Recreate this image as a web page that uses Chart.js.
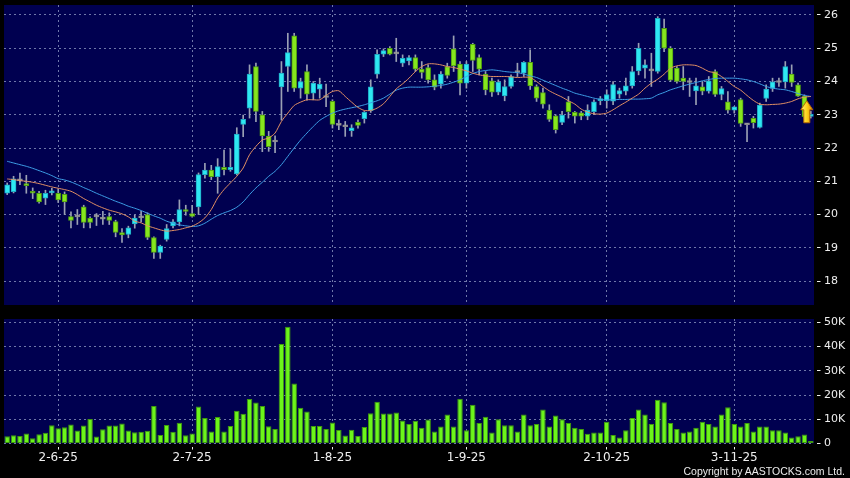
<!DOCTYPE html>
<html><head><meta charset="utf-8">
<script src="https://cdn.jsdelivr.net/npm/chart.js@4.4.1/dist/chart.umd.min.js"></script>
<style>
html,body{margin:0;padding:0;background:#000;width:850px;height:478px;overflow:hidden}
#wrap{position:relative;width:850px;height:478px;background:#000}
#pc{position:absolute;left:0;top:0}
#vc{position:absolute;left:0;top:312px}
#copy{position:absolute;right:5px;top:465px;color:#ececec;font:10.5px "Liberation Sans",Arial,sans-serif;white-space:nowrap}
</style></head><body>
<div id="wrap">
<canvas id="pc" width="850" height="312"></canvas>
<canvas id="vc" width="850" height="166"></canvas>
<div id="copy">Copyright by AASTOCKS.com Ltd.</div>
</div>
<script>
// ---- data ----
const dates = [
 '21-5-25','22-5-25','23-5-25','26-5-25','27-5-25','28-5-25','29-5-25','30-5-25',
 '2-6-25','3-6-25','4-6-25','5-6-25','6-6-25','9-6-25','10-6-25','11-6-25','12-6-25','13-6-25','16-6-25','17-6-25','18-6-25','19-6-25','20-6-25','23-6-25','24-6-25','25-6-25','26-6-25','27-6-25','30-6-25',
 '2-7-25','3-7-25','4-7-25','7-7-25','8-7-25','9-7-25','10-7-25','11-7-25','14-7-25','15-7-25','16-7-25','17-7-25','18-7-25','21-7-25','22-7-25','23-7-25','24-7-25','25-7-25','28-7-25','29-7-25','30-7-25','31-7-25',
 '1-8-25','4-8-25','5-8-25','6-8-25','7-8-25','8-8-25','11-8-25','12-8-25','13-8-25','14-8-25','15-8-25','18-8-25','19-8-25','20-8-25','21-8-25','22-8-25','25-8-25','26-8-25','27-8-25','28-8-25','29-8-25',
 '1-9-25','2-9-25','3-9-25','4-9-25','5-9-25','8-9-25','9-9-25','10-9-25','11-9-25','12-9-25','15-9-25','16-9-25','17-9-25','18-9-25','19-9-25','22-9-25','23-9-25','24-9-25','25-9-25','26-9-25','29-9-25','30-9-25',
 '2-10-25','3-10-25','6-10-25','8-10-25','9-10-25','10-10-25','13-10-25','14-10-25','15-10-25','16-10-25','17-10-25','20-10-25','21-10-25','22-10-25','23-10-25','24-10-25','27-10-25','28-10-25','30-10-25','31-10-25',
 '3-11-25','4-11-25','5-11-25','6-11-25','7-11-25','10-11-25','11-11-25','12-11-25','13-11-25','14-11-25','17-11-25','18-11-25','19-11-25'
];
const tickDates = ['2-6-25','2-7-25','1-8-25','1-9-25','2-10-25','3-11-25'];
const priceTicks = [18,19,20,21,22,23,24,25,26];
const volumeTicks = [0,10,20,30,40,50];

const opens = [20.64,20.69,21.01,20.93,20.70,20.64,20.49,20.65,20.64,20.61,
 19.94,19.93,20.23,19.89,19.93,19.86,19.94,19.79,19.46,19.40,
 19.72,19.90,20.00,19.31,18.86,19.25,19.66,19.78,20.15,20.03,
 20.23,21.20,21.34,21.14,21.42,21.35,21.22,22.71,23.20,24.45,
 23.00,22.36,22.18,23.84,24.45,25.37,23.80,24.30,23.65,23.77,
 23.52,23.40,22.68,22.64,22.52,22.77,22.88,23.12,24.22,24.82,
 25.00,24.83,24.55,24.62,24.72,24.37,24.42,24.05,23.92,24.45,
 24.98,24.52,23.95,25.12,24.72,24.22,24.02,23.68,23.57,23.85,
 24.27,24.25,24.58,23.85,23.67,23.14,22.97,22.77,23.39,23.07,
 23.06,22.96,23.09,23.42,23.42,23.41,23.62,23.71,23.87,24.32,
 24.40,24.32,24.30,25.60,25.00,24.40,24.10,23.97,23.72,23.84,
 23.71,24.30,23.61,23.39,23.14,23.46,22.70,22.89,22.62,23.49,
 23.79,23.97,23.99,24.22,23.90,23.56,22.95];
const highs = [20.95,21.15,21.25,21.18,20.80,20.70,20.73,20.79,20.77,20.68,
 20.08,20.15,20.28,19.93,20.03,20.10,20.05,19.83,19.58,19.65,
 19.98,20.10,20.05,19.33,19.08,19.70,19.85,20.44,20.28,20.28,
 21.25,21.54,21.48,21.68,21.94,21.96,22.61,22.99,24.50,24.55,
 23.10,22.50,22.37,24.60,25.45,25.45,24.10,24.50,24.00,24.10,
 23.92,23.45,22.85,22.80,22.70,22.85,23.10,24.05,24.95,24.98,
 25.05,25.30,24.80,24.78,24.80,24.60,24.50,24.20,24.30,24.55,
 25.37,24.60,24.60,25.15,24.80,24.30,24.10,24.05,24.05,24.20,
 24.55,24.60,24.95,23.90,23.80,23.30,23.00,23.10,23.55,23.10,
 23.10,23.30,23.45,23.55,23.75,24.00,23.80,24.10,24.45,25.15,
 24.65,24.85,25.95,25.88,25.05,24.45,24.45,24.10,24.10,24.00,
 24.15,24.35,23.85,23.70,23.25,23.50,22.74,22.95,23.35,23.90,
 24.10,24.10,24.60,24.50,23.95,23.60,23.10];
const lows = [20.60,20.65,20.90,20.64,20.48,20.34,20.30,20.59,20.36,20.00,
 19.60,19.70,19.60,19.60,19.67,19.70,19.70,19.33,19.16,19.30,
 19.59,19.78,19.25,18.68,18.68,19.20,19.60,19.66,19.98,19.92,
 20.00,21.09,21.05,20.64,21.19,21.30,21.19,22.34,22.90,22.79,
 21.89,21.90,21.86,22.84,23.70,23.70,23.50,23.44,23.45,23.50,
 23.24,22.60,22.55,22.35,22.35,22.60,22.75,23.07,24.10,24.75,
 24.80,24.60,24.45,24.50,24.30,24.10,23.95,23.75,23.80,24.10,
 24.30,23.60,23.80,24.30,24.20,23.60,23.55,23.60,23.42,23.80,
 24.15,24.15,23.76,23.40,23.20,22.80,22.45,22.70,22.90,22.75,
 22.85,22.85,23.00,23.30,23.20,23.30,23.50,23.60,23.80,24.20,
 24.10,23.85,24.25,24.90,24.00,23.95,23.75,23.55,23.30,23.60,
 23.65,23.55,23.45,23.05,23.05,22.65,22.19,22.60,22.60,23.40,
 23.70,23.85,23.80,23.85,23.55,22.90,22.90];
const closes = [20.89,21.07,21.01,20.87,20.64,20.38,20.64,20.69,20.44,20.38,
 19.82,19.93,19.76,19.76,19.93,19.86,19.82,19.46,19.39,19.60,
 19.89,19.90,19.31,18.86,19.05,19.58,19.78,20.15,20.09,19.94,
 21.20,21.34,21.14,21.44,21.35,21.42,22.42,22.86,24.22,23.10,
 22.36,22.04,22.18,24.25,24.87,23.80,24.00,23.62,23.95,23.92,
 23.52,22.71,22.68,22.64,22.61,22.68,23.07,23.84,24.82,24.93,
 24.82,24.83,24.70,24.72,24.37,24.27,24.05,23.83,24.22,24.18,
 24.47,23.95,24.52,24.63,24.37,23.75,23.68,23.98,23.85,24.15,
 24.27,24.58,23.87,23.50,23.32,22.86,22.55,22.99,23.09,22.96,
 22.96,23.14,23.39,23.49,23.61,23.91,23.73,23.87,24.30,25.00,
 24.50,24.32,25.90,25.00,24.04,24.00,24.00,23.97,23.87,23.71,
 24.02,23.61,23.79,23.14,23.24,22.74,22.70,22.76,23.29,23.77,
 23.99,23.97,24.45,23.97,23.56,22.94,23.00];
const maShort = [21.07,21.05,21.02,21.00,20.97,20.93,20.88,20.83,20.79,20.75,
 20.70,20.60,20.48,20.38,20.28,20.20,20.13,20.08,20.02,19.93,
 19.80,19.75,19.66,19.60,19.54,19.50,19.52,19.55,19.60,19.65,
 19.75,19.90,20.15,20.50,20.75,20.95,21.15,21.40,21.80,22.05,
 22.24,22.30,22.45,22.80,23.05,23.28,23.38,23.45,23.45,23.45,
 23.58,23.70,23.72,23.55,23.38,23.22,23.13,23.13,23.20,23.33,
 23.55,23.78,23.93,24.10,24.30,24.45,24.53,24.53,24.50,24.45,
 24.42,24.37,24.32,24.25,24.20,24.17,24.15,24.15,24.15,24.14,
 24.12,24.13,24.12,24.00,23.85,23.72,23.62,23.53,23.42,23.32,
 23.17,23.08,23.03,23.02,23.05,23.15,23.27,23.38,23.50,23.62,
 23.80,23.95,24.07,24.22,24.40,24.47,24.50,24.50,24.48,24.40,
 24.30,24.26,24.15,24.00,23.85,23.74,23.58,23.43,23.32,23.30,
 23.31,23.32,23.35,23.40,23.48,23.53,23.55];
const maLong = [21.60,21.55,21.50,21.45,21.39,21.32,21.25,21.17,21.08,21.04,
 20.98,20.90,20.81,20.73,20.64,20.56,20.48,20.40,20.33,20.25,
 20.19,20.12,20.04,19.96,19.89,19.80,19.74,19.69,19.66,19.64,
 19.66,19.74,19.86,19.97,20.05,20.12,20.22,20.38,20.60,20.80,
 20.97,21.15,21.30,21.50,21.75,22.00,22.24,22.45,22.65,22.83,
 22.95,23.05,23.12,23.17,23.21,23.25,23.30,23.36,23.42,23.50,
 23.62,23.74,23.80,23.83,23.83,23.83,23.84,23.86,23.88,23.92,
 23.98,24.05,24.15,24.24,24.30,24.33,24.35,24.33,24.30,24.28,
 24.27,24.22,24.17,24.12,24.04,23.96,23.88,23.80,23.73,23.65,
 23.60,23.55,23.50,23.46,23.45,23.45,23.46,23.46,23.47,23.47,
 23.48,23.50,23.60,23.67,23.75,23.81,23.87,23.92,23.97,24.02,
 24.06,24.09,24.10,24.10,24.10,24.08,24.05,24.00,23.93,23.85,
 23.80,23.77,23.75,23.70,23.64,23.58,23.55];
const volumeK = [3.0,3.4,3.1,4.1,2.2,3.8,4.4,7.5,6.3,6.7,
 7.8,5.4,7.4,10.1,2.9,5.9,7.4,7.4,8.3,5.4,
 4.6,4.8,5.3,15.5,3.5,7.6,4.8,8.6,3.4,4.1,
 15.3,10.5,4.9,10.9,4.9,7.2,13.5,12.3,18.4,16.9,
 15.5,7.1,6.0,41.0,48.2,24.8,14.7,13.2,7.2,7.2,
 6.0,8.7,5.6,3.3,5.7,3.1,6.8,12.5,17.2,12.4,
 12.4,12.8,9.5,8.0,9.4,6.5,9.9,5.0,7.0,12.0,
 7.0,18.5,5.5,16.0,8.5,11.0,4.5,10.0,7.5,7.5,
 5.0,12.0,7.5,8.0,14.0,7.0,11.5,10.0,8.5,6.5,
 6.0,4.0,4.5,4.5,9.0,3.5,2.5,5.5,10.5,14.0,
 12.0,8.0,18.0,17.0,8.5,6.0,4.5,5.0,6.5,9.0,
 8.0,7.0,12.0,15.0,8.0,7.0,8.5,5.0,7.0,7.0,
 5.5,5.5,4.5,2.5,3.0,3.7,1.0];

// ---- styles ----
const NAVY = '#000050';
const GRID = 'rgba(130,140,185,0.85)';
const TEXT = '#eeeeee';
const UP = '#2ee8f2', UP_B = '#1fa9c4';
const DOWN = '#86e61e', DOWN_B = '#4f9c12';
const FLAT = '#a8a8a8', FLAT_B = '#8a8a8a';
const WICK = '#9aa0b4';
const ORANGE = '#e39064', BLUE = '#3d9ee6';
const VOL = '#6cf51a', VOL_B = '#3f9a0c';

const bodyFill = opens.map((o,i)=> closes[i]>o ? UP : (closes[i]<o ? DOWN : FLAT));
const bodyLine = opens.map((o,i)=> closes[i]>o ? UP_B : (closes[i]<o ? DOWN_B : FLAT_B));

const areaBg = {id:'areaBg', beforeDraw(chart){
  const {ctx, chartArea:a} = chart;
  ctx.save(); ctx.fillStyle = NAVY; ctx.fillRect(a.left, a.top, a.right-a.left, a.bottom-a.top); ctx.restore();
}};
const arrowMark = {id:'arrowMark', afterDatasetsDraw(chart){
  const last = closes.length-1;
  const x = chart.scales.x.getPixelForValue(last) - 4;
  const y = chart.scales.y.getPixelForValue(closes[last]);
  const ctx = chart.ctx; ctx.save();
  const g = ctx.createLinearGradient(x-6,0,x+6,0);
  g.addColorStop(0,'#fff47a'); g.addColorStop(0.5,'#ffd21a'); g.addColorStop(1,'#e08a00');
  ctx.beginPath();
  ctx.moveTo(x, y-14); ctx.lineTo(x+6, y-5); ctx.lineTo(x+3, y-5); ctx.lineTo(x+3, y+8);
  ctx.lineTo(x-3, y+8); ctx.lineTo(x-3, y-5); ctx.lineTo(x-6, y-5); ctx.closePath();
  ctx.fillStyle = g; ctx.fill(); ctx.strokeStyle = '#b86a00'; ctx.lineWidth = 1; ctx.stroke();
  ctx.restore();
}};
function keepDateTicks(axis){ axis.ticks = tickDates.map(d=>({value: dates.indexOf(d)})); }
const tickDash = [0,3,3.5,30];
const yFont = {family:'DejaVu Sans', size:11, lineHeight:0.8};

new Chart(document.getElementById('pc'), {
  data: {
    labels: dates,
    datasets: [
      {type:'line', data: maShort, borderColor: ORANGE, borderWidth:1, pointRadius:0, tension:0.25, order:1},
      {type:'line', data: maLong, borderColor: BLUE, borderWidth:1, pointRadius:0, tension:0.25, order:1},
      {type:'bar', data: dates.map((d,i)=>[opens[i], closes[i]]), backgroundColor: bodyFill, borderColor: bodyLine,
        borderWidth:1, borderSkipped:false, barThickness:5, minBarLength:2, grouped:false, order:2},
      {type:'bar', data: dates.map((d,i)=>[lows[i], highs[i]]), backgroundColor: WICK, barThickness:1, grouped:false, order:3}
    ]
  },
  options: {
    responsive:false, animation:false, events:[],
    layout:{padding:{left:4, top:5, right:0, bottom:7}},
    plugins:{legend:{display:false}, tooltip:{enabled:false}},
    scales:{
      x:{type:'category', offset:true,
         grid:{offset:false, color:GRID, drawTicks:false, lineWidth:1},
         border:{display:false, dash:[2,3]},
         ticks:{display:false, autoSkip:false},
         afterBuildTicks: keepDateTicks, afterFit(a){ a.height = 0; }},
      y:{position:'right', min:17.28, max:26.3,
         grid:{color:GRID, tickLength:10, tickColor:TEXT, tickBorderDash:tickDash},
         border:{display:false, dash:[2,3]},
         ticks:{color:TEXT, font:yFont, padding:0},
         afterBuildTicks(a){ a.ticks = priceTicks.map(v=>({value:v})); },
         afterFit(a){ a.width = 36; }}
    }
  },
  plugins:[areaBg, arrowMark]
});

new Chart(document.getElementById('vc'), {
  type:'bar',
  data:{labels: dates, datasets:[{data: volumeK, backgroundColor: VOL, borderColor: VOL_B, borderWidth:1,
     borderSkipped:false, barPercentage:0.86, categoryPercentage:1}]},
  options:{
    responsive:false, animation:false, events:[],
    layout:{padding:{left:4, top:7, right:0, bottom:0}},
    plugins:{legend:{display:false}, tooltip:{enabled:false}},
    scales:{
      x:{offset:true,
         grid:{offset:false, color:GRID, tickColor:TEXT, tickLength:6, tickBorderDash:tickDash},
         border:{display:false, dash:[2,3]},
         ticks:{color:TEXT, font:{family:'DejaVu Sans', size:12}, padding:1, autoSkip:false, maxRotation:0},
         afterBuildTicks: keepDateTicks, afterFit(a){ a.height = 34.5; }},
      y:{position:'right', min:0, max:51.36,
         grid:{color:GRID, tickLength:10, tickColor:TEXT, tickBorderDash:tickDash},
         border:{display:false, dash:[2,3]},
         ticks:{color:TEXT, font:yFont, padding:0,
                callback:v => v===0 ? '0' : v+'K'},
         afterBuildTicks(a){ a.ticks = volumeTicks.map(v=>({value:v})); },
         afterFit(a){ a.width = 36; }}
    }
  },
  plugins:[areaBg]
});
</script>
</body></html>
